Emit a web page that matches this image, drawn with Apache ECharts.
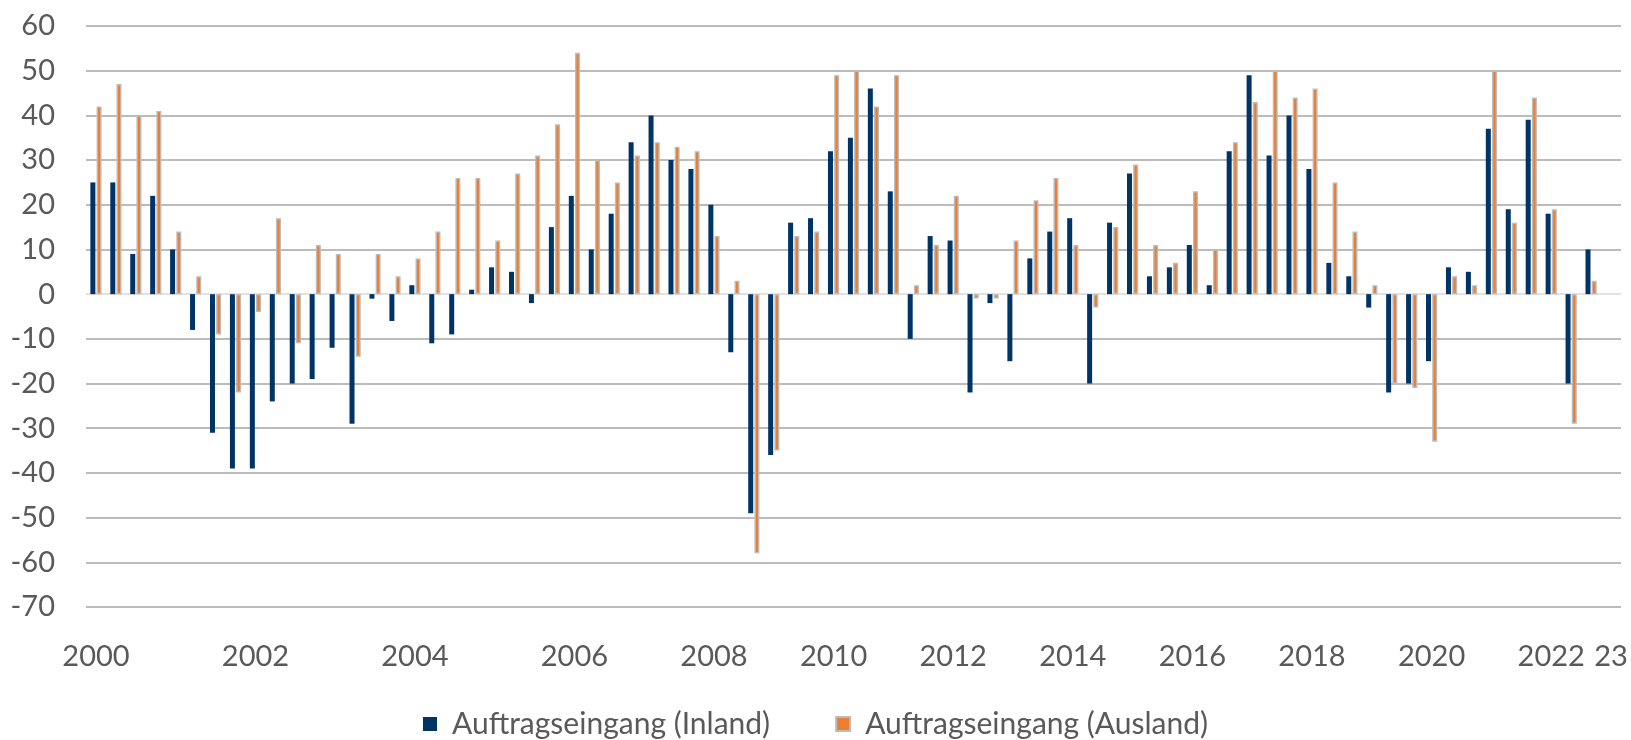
<!DOCTYPE html>
<html>
<head>
<meta charset="utf-8">
<style>
  html, body { margin: 0; padding: 0; background: #fff; }
  #main { width: 1631px; height: 740px; }
</style>
<script src="https://cdn.jsdelivr.net/npm/echarts@6/dist/echarts.min.js"></script>
</head>
<body>
<div id="main"></div>
<script>
// Auftragseingang, Veränderung in % (Quartale)
var inland = [25, 25, 9, 22, 10, -8, -31, -39, -39, -24, -20, -19, -12, -29, -1, -6,
  2, -11, -9, 1, 6, 5, -2, 15, 22, 10, 18, 34, 40, 30, 28, 20,
  -13, -49, -36, 16, 17, 32, 35, 46, 23, -10, 13, 12, -22, -2, -15, 8,
  14, 17, -20, 16, 27, 4, 6, 11, 2, 32, 49, 31, 40, 28, 7, 4,
  -3, -22, -20, -15, 6, 5, 37, 19, 39, 18, -20, 10];
var ausland = [42, 47, 40, 41, 14, 4, -9, -22, -4, 17, -11, 11, 9, -14, 9, 4,
  8, 14, 26, 26, 12, 27, 31, 38, 54, 30, 25, 31, 34, 33, 32, 13,
  3, -58, -35, 13, 14, 49, 50, 42, 49, 2, 11, 22, -1, -1, 12, 21,
  26, 11, -3, 15, 29, 11, 7, 23, 10, 34, 43, 50, 44, 46, 25, 14,
  2, -20, -21, -33, 4, 2, 50, 16, 44, 19, -29, 3];

// Beschriftung der x-Achse (Position in der Kategorienliste)
var tickIndex = [0, 8, 16, 24, 31, 37, 43, 49, 55, 61, 67, 73, 76];
var tickText = ["2000", "2002", "2004", "2006", "2008", "2010", "2012", "2014", "2016", "2018", "2020", "2022", "23"];
var categoryCount = 77;

var yTicks = [-70, -60, -50, -40, -30, -20, -10, 0, 10, 20, 30, 40, 50, 60];

var categories = [];
for (var i = 0; i < categoryCount; i++) {
  var k = tickIndex.indexOf(i);
  categories.push(k >= 0 ? tickText[k] : "");
}
// Null-Linie heller als die übrigen Gitterlinien
var gridColors = yTicks.map(function (v) {
  return v === 0 ? "#d9d9d9" : "#a6a6a6";
});

var font = "Lato";
var textColor = "#595959";

var myChart = echarts.init(document.getElementById("main"));
var option = {
  animation: false,
  textStyle: { fontFamily: font },
  grid: {
    left: 86,
    right: 10,
    top: 26,
    bottom: 133,
    containLabel: false,
  },
  legend: {
    top: 704,
    left: "center",
    icon: "rect",
    itemWidth: 14,
    itemHeight: 14,
    itemGap: 65,
    textStyle: {
      fontFamily: font,
      fontSize: 30,
      color: textColor,
      padding: [0, 0, 0, 10],
    },
    data: ["Auftragseingang (Inland)", "Auftragseingang (Ausland)"],
  },
  xAxis: {
    type: "category",
    data: categories,
    axisLine: { show: false },
    axisTick: { show: false },
    axisLabel: {
      interval: function (index, value) {
        return value !== "";
      },
      margin: 35,
      fontFamily: font,
      fontSize: 29,
      color: textColor,
    },
  },
  yAxis: {
    type: "value",
    min: -70,
    max: 60,
    interval: 10,
    axisLine: { show: false },
    axisTick: { show: false },
    axisLabel: {
      margin: 31,
      fontFamily: font,
      fontSize: 29,
      color: textColor,
    },
    splitLine: {
      lineStyle: { color: gridColors, width: 1.5 },
    },
  },
  series: [
    {
      name: "Auftragseingang (Inland)",
      type: "bar",
      barWidth: 5,
      barGap: "24%",
      itemStyle: { color: "#003366" },
      data: inland,
    },
    {
      name: "Auftragseingang (Ausland)",
      type: "bar",
      barWidth: 5,
      itemStyle: {
        color: "#ed7d31",
        borderColor: "#bcbcbc",
        borderWidth: 1.4,
      },
      data: ausland,
    },
  ],
};
myChart.setOption(option);
</script>
</body>
</html>
